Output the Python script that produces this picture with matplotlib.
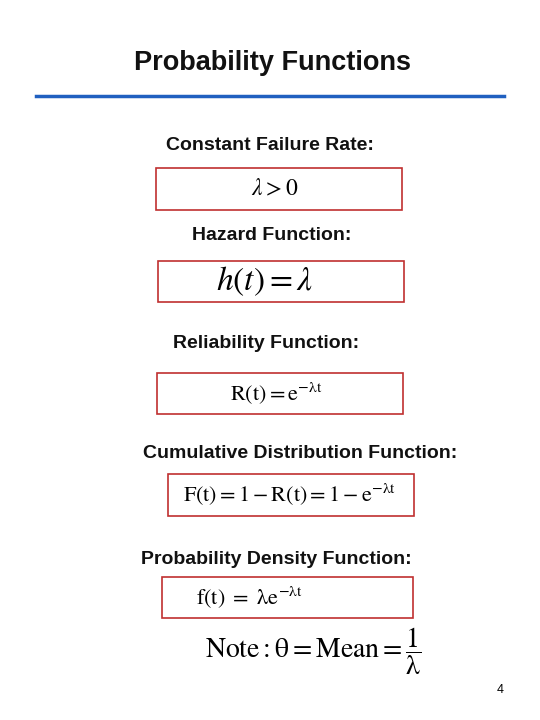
import matplotlib.pyplot as plt
from matplotlib.patches import Rectangle

plt.rcParams["mathtext.fontset"] = "stix"
plt.rcParams["font.family"] = ["Liberation Sans", "DejaVu Sans"]

W, H = 540, 720

labels = ["Constant Failure Rate:", "Hazard Function:", "Reliability Function:",
          "Cumulative Distribution Function:", "Probability Density Function:"]
label_pos = [(270, 145), (272, 236), (266, 343), (300, 453), (276, 559)]

formulas = [r"$\lambda > 0$", r"$h(t) = \lambda$", r"$\mathrm{R(t) = e^{-\lambda t}}$",
            r"$\mathrm{F(t) = 1 - R(t) = 1 - e^{-\lambda t}}$", r"$\mathrm{f(t)\ =\ \lambda e^{-\lambda t}}$"]
formula_size = [17, 24, 16, 16, 16]
formula_x = [275, 265, 276, 290, 249]
boxes = [(156, 168, 402, 210), (158, 261, 404, 302), (157, 373, 403, 414),
         (168, 474, 414, 516), (162, 577, 413, 618)]

fig = plt.figure(figsize=(W / 100, H / 100), dpi=100)
ax = fig.add_axes([0, 0, 1, 1])
ax.set_xlim(0, W)
ax.set_ylim(H, 0)
ax.axis("off")

ax.text(272, 63, "Probability Functions", fontsize=19.5, fontweight="bold",
        ha="center", va="center", color="#111111")
ax.plot([36, 504], [96, 96], color="#2060c0", lw=2.5)

for (x, y), lab in zip(label_pos, labels):
    ax.text(x, y, lab, fontsize=14, fontweight="bold", ha="center", va="center",
            color="#111111")

for (x0, y0, x1, y1), f, s, fx in zip(boxes, formulas, formula_size, formula_x):
    ax.add_patch(Rectangle((x0, y0), x1 - x0, y1 - y0, fill=False,
                           edgecolor="#c03030", lw=1.2))
    ax.text(fx, (y0 + y1) / 2, f, fontsize=s, ha="center", va="center")

ax.text(313, 651, r"$\mathrm{Note : \theta = Mean = \dfrac{1}{\lambda}}$", fontsize=20,
        ha="center", va="center")
ax.text(500, 690, "4", fontsize=9, ha="center", va="center")

fig.savefig("out.png", dpi=100)
